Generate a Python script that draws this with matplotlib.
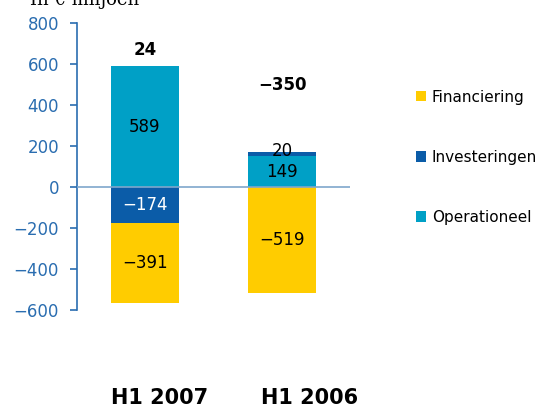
import numpy as np
import matplotlib
matplotlib.use("Agg")
import matplotlib.pyplot as plt

# Gegevens
perioden = ["H1 2007", "H1 2006"]
operationeel = [589, 149]
investeringen = [-174, 20]
financiering = [-391, -519]
totaal = [24, -350]
totaal_hoogte = [668, 497]

kleur_op = "#00a0c6"
kleur_inv = "#0b5ca8"
kleur_fin = "#ffcc00"
kleur_as = "#2a6db0"

fig = plt.figure(figsize=(5.39, 4.08), dpi=100)
ax = fig.add_axes([77 / 539, 98 / 408, 273 / 539, 287 / 408])

x = np.arange(len(perioden))
w = 0.5

# Stapelen: positief omhoog, negatief omlaag
pos_basis = np.zeros(len(x))
neg_basis = np.zeros(len(x))
reeksen = [("Operationeel", operationeel, kleur_op),
           ("Investeringen", investeringen, kleur_inv),
           ("Financiering", financiering, kleur_fin)]
handles = {}
for naam, vals, kleur in reeksen:
    vals = np.array(vals, dtype=float)
    basis = np.where(vals >= 0, pos_basis, neg_basis)
    b = ax.bar(x, vals, w, bottom=basis, color=kleur, label=naam, zorder=2)
    handles[naam] = b
    for i, v in enumerate(vals):
        tekstkleur = "white" if naam == "Investeringen" and v < 0 else "black"
        if naam == "Investeringen" and v >= 0:
            ytxt = basis[i] + v + 8
        else:
            ytxt = basis[i] + v / 2
        ax.text(x[i], ytxt, f"{int(v)}".replace("-", "\u2212"), ha="center",
                va="center", fontsize=12, color=tekstkleur, zorder=3)
    pos_basis = pos_basis + np.where(vals >= 0, vals, 0)
    neg_basis = neg_basis + np.where(vals < 0, vals, 0)

for i, t in enumerate(totaal):
    ax.text(x[i], totaal_hoogte[i], f"{t}".replace("-", "\u2212"), ha="center",
            va="center", fontsize=12, fontweight="bold", color="black")

ax.axhline(0, color="#7fa7cc", lw=1.2, zorder=4)
ax.set_xlim(-0.496, 1.496)
ax.set_ylim(-600, 800)
ax.set_yticks(np.arange(-600, 801, 200))
ax.set_yticklabels([f"{v}".replace("-", "\u2212") for v in range(-600, 801, 200)])
ax.set_xticks([])
for s in ["top", "right", "bottom"]:
    ax.spines[s].set_visible(False)
ax.spines["left"].set_color(kleur_as)
ax.spines["left"].set_linewidth(1.2)
ax.tick_params(axis="y", colors=kleur_as, labelsize=12, length=5, width=1.2,
                pad=8)

# Periodes onder de grafiek
for xpos, p in zip([160, 310], perioden):
    fig.text(xpos / 539, 4 / 408, p, ha="center", va="baseline",
             fontsize=15, fontweight="bold")

fig.text(30 / 539, 403 / 408, "In \u20ac miljoen", ha="left", va="baseline",
         fontsize=13, family="DejaVu Serif")

volgorde = ["Financiering", "Investeringen", "Operationeel"]
fig.legend([handles[n] for n in volgorde], volgorde, loc="upper left",
           bbox_to_anchor=(402 / 539, 1 - 76 / 408), frameon=False,
           fontsize=11, handlelength=0.65, handleheight=0.65,
           handletextpad=0.4, labelspacing=2.95)

fig.savefig("out.png", dpi=100)
